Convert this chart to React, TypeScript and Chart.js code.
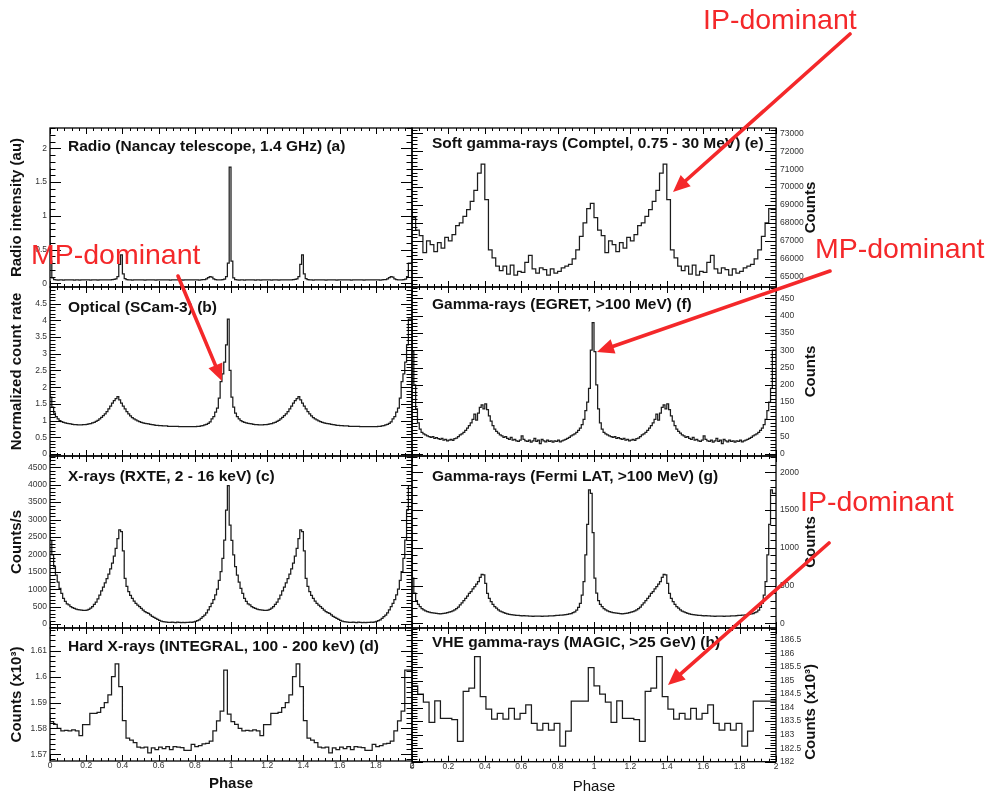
import React, { useEffect, useRef } from "react";
import { Chart, registerables } from "chart.js";

Chart.register(...registerables);

// ---------------- data ----------------
// Every light curve is a single-rotation phase profile; the figure plots two rotations (phase 0..2).
const phaseTicks = [0, 0.2, 0.4, 0.6, 0.8, 1, 1.2, 1.4, 1.6, 1.8, 2];

// (a) Radio, Nancay 1.4 GHz – 100 bins per rotation (au)
const radioProfile = [
  1.72, 0.33, 0.08, 0.055, 0.05, 0.048, 0.052, 0.05, 0.047, 0.05,
  0.051, 0.049, 0.05, 0.052, 0.048, 0.05, 0.05, 0.047, 0.051, 0.05,
  0.049, 0.05, 0.052, 0.048, 0.05, 0.05, 0.051, 0.047, 0.05, 0.05,
  0.052, 0.049, 0.05, 0.05, 0.052, 0.055, 0.058, 0.065, 0.1, 0.28,
  0.42, 0.14, 0.07, 0.055, 0.05, 0.05, 0.048, 0.051, 0.05, 0.049,
  0.05, 0.05, 0.052, 0.048, 0.05, 0.051, 0.049, 0.05, 0.05, 0.048,
  0.05, 0.052, 0.05, 0.049, 0.05, 0.05, 0.051, 0.048, 0.05, 0.05,
  0.049, 0.052, 0.05, 0.05, 0.048, 0.05, 0.051, 0.05, 0.049, 0.05,
  0.05, 0.052, 0.05, 0.048, 0.05, 0.053, 0.056, 0.065, 0.085, 0.1,
  0.09, 0.065, 0.055, 0.05, 0.05, 0.051, 0.055, 0.06, 0.1, 0.3,
];
const radioTicks = [0, 0.5, 1, 1.5, 2];

// (b) Optical, SCam-3 – normalized count rate, 100 bins
const opticalProfile = [
  2.5, 1.7, 1.4, 1.22, 1.12, 1.05, 1.0, 0.97, 0.95, 0.93,
  0.92, 0.91, 0.9, 0.89, 0.88, 0.88, 0.87, 0.87, 0.87, 0.88,
  0.88, 0.89, 0.9, 0.91, 0.93, 0.95, 0.98, 1.01, 1.05, 1.1,
  1.15, 1.2, 1.27, 1.35, 1.43, 1.52, 1.6, 1.66, 1.72, 1.62,
  1.52, 1.43, 1.35, 1.27, 1.2, 1.14, 1.09, 1.05, 1.02, 0.99,
  0.97, 0.95, 0.93, 0.92, 0.91, 0.9, 0.89, 0.88, 0.87, 0.86,
  0.86, 0.85, 0.85, 0.84, 0.84, 0.84, 0.83, 0.83, 0.83, 0.83,
  0.83, 0.83, 0.82, 0.82, 0.82, 0.82, 0.82, 0.82, 0.82, 0.82,
  0.82, 0.82, 0.83, 0.83, 0.84, 0.85, 0.87, 0.89, 0.92, 0.96,
  1.05, 1.12, 1.25, 1.37, 1.67, 2.17, 2.4, 2.75, 3.27, 4.04,
];
const opticalTicks = [0, 0.5, 1, 1.5, 2, 2.5, 3, 3.5, 4, 4.5];

// (c) X-rays, RXTE 2-16 keV – counts/s, 100 bins
const xrayProfile = [
  2843, 2400, 1982, 1650, 1407, 1200, 1024, 880, 737, 650,
  580, 546, 500, 470, 450, 430, 415, 405, 395, 390,
  392, 400, 420, 455, 500, 560, 630, 720, 830, 950,
  1060, 1180, 1300, 1430, 1580, 1750, 1950, 2170, 2450, 2700,
  2650, 2100, 1310, 1080, 929, 820, 737, 660, 594, 540,
  500, 450, 400, 354, 330, 306, 260, 220, 190, 163,
  130, 105, 85, 70, 62, 55, 50, 45, 52, 48,
  40, 55, 45, 42, 48, 40, 50, 45, 55, 50,
  60, 75, 95, 120, 160, 210, 258, 320, 402, 500,
  593, 700, 833, 1000, 1250, 1503, 1886, 2412, 3274, 3973,
];
const xrayTicks = [0, 500, 1000, 1500, 2000, 2500, 3000, 3500, 4000, 4500];

// (d) Hard X-rays, INTEGRAL 100-200 keV – counts (x10^3), 50 bins
const integralProfile = [
  1.5855, 1.5826, 1.5816, 1.58, 1.579, 1.5792, 1.579, 1.5794, 1.579, 1.5772,
  1.5815, 1.5815, 1.5858, 1.5858, 1.5862, 1.588, 1.59, 1.593, 1.6, 1.6049,
  1.5961, 1.583, 1.5762, 1.5755, 1.5745, 1.5728, 1.5725, 1.5728, 1.5705, 1.5725,
  1.5718, 1.5728, 1.5722, 1.573, 1.5718, 1.573, 1.5728, 1.5726, 1.5715, 1.5715,
  1.5738, 1.573, 1.5733, 1.574, 1.5742, 1.5751, 1.579, 1.5829, 1.5867, 1.6025,
];
const integralTicks = [1.57, 1.58, 1.59, 1.6, 1.61];

// (e) Soft gamma-rays, COMPTEL 0.75-30 MeV – counts, 50 bins
const comptelProfile = [
  69100, 68300, 67600, 67300, 66350, 67000, 66800, 66400, 66900, 66600,
  67200, 67000, 67350, 67850, 68000, 68370, 68740, 69200, 69815, 70780,
  71280, 69300, 66500, 66050, 65600, 65350, 65600, 65150, 65650, 65100,
  65300, 65250, 65800, 66200, 65450, 65200, 65500, 65400, 65100, 65450,
  65200, 65300, 65500, 65600, 65700, 66000, 66500, 67250, 68000, 68800,
];
const comptelTicks = [65000, 66000, 67000, 68000, 69000, 70000, 71000, 72000, 73000];

// (f) Gamma-rays, EGRET >100 MeV – counts, 100 bins
const egretProfile = [
  380, 296, 200, 130, 90, 72, 62, 58, 55, 52,
  50, 48, 50, 45, 47, 44, 42, 45, 40, 42,
  38, 40, 42, 39, 44, 46, 50, 55, 58, 62,
  68, 75, 82, 90, 100, 115, 98, 118, 135, 142,
  130, 145, 128, 110, 95, 82, 72, 65, 60, 55,
  52, 48, 50, 45, 42, 48, 40, 42, 38, 36,
  40, 52, 42, 38, 36, 40, 34, 38, 45, 36,
  40, 30, 42, 38, 35, 40, 36, 38, 34, 38,
  36, 40, 35, 38, 40, 42, 45, 48, 52, 55,
  58, 62, 68, 75, 85, 100, 125, 150, 190, 300,
];
const egretTicks = [0, 50, 100, 150, 200, 250, 300, 350, 400, 450];

// (g) Gamma-rays, Fermi LAT >100 MeV – counts, 100 bins
const fermiProfile = [
  1200, 600, 400, 300, 250, 220, 195, 177, 165, 155,
  148, 142, 138, 135, 132, 130, 126, 130, 133, 135,
  140, 148, 155, 165, 178, 195, 215, 243, 270, 300,
  330, 360, 395, 420, 455, 485, 520, 552, 610, 649,
  640, 530, 397, 330, 287, 250, 220, 200, 177, 160,
  150, 140, 132, 125, 120, 115, 112, 110, 106, 105,
  103, 100, 101, 98, 97, 96, 95, 93, 94, 96,
  95, 94, 92, 94, 95, 96, 97, 98, 100, 102,
  104, 105, 108, 110, 112, 115, 120, 125, 130, 140,
  150, 175, 210, 265, 375, 552, 905, 1311, 1766, 1720,
];
const fermiTicks = [0, 500, 1000, 1500, 2000];

// (h) VHE gamma-rays, MAGIC >25 GeV – counts (x10^3), 32 bins
const magicProfile = [
  185.48, 184.8, 184.5, 184.2, 183.45, 184.25, 183.6, 183.6, 183.55, 182.75,
  184.6, 184.72, 185.88, 184.4, 183.94, 183.57, 183.79, 183.57, 183.97, 183.57,
  183.79, 184.1, 183.42, 183.17, 183.42, 183.17, 183.42, 182.58, 183.13, 184.24,
  184.24, 184.24,
];
const magicTicks = [182, 182.5, 183, 183.5, 184, 184.5, 185, 185.5, 186, 186.5];

// ---------------- layout & style ----------------
const FONT = '"Liberation Sans", Arial, Helvetica, sans-serif';
const LINE = "#1c1c1c";
const RED = "#f4282a";
const PAGE_H = 799;

const COLS = [
  { frameLeft: 50, frameRight: 412, canvasLeft: 0, canvasRight: 416 },
  { frameLeft: 412, frameRight: 776, canvasLeft: 408, canvasRight: 830 },
];

type PanelCfg = {
  key: string;
  col: number;
  top: number;
  bottom: number;
  profile: number[];
  yMin: number;
  yMax: number;
  yTicks: number[];
  yMinor: number;
  title: string;
  titleDy: number;
  yTitle: string;
  yTitleDy?: number;
  bottomRow?: boolean;
  xTitleBold?: boolean;
};

const panels: PanelCfg[] = [
  { key: "a", col: 0, top: 128, bottom: 287, profile: radioProfile, yMin: -0.055, yMax: 2.3, yTicks: radioTicks, yMinor: 0.1,
    title: "Radio (Nancay telescope, 1.4 GHz) (a)", titleDy: 19, yTitle: "Radio intensity (au)" },
  { key: "b", col: 0, top: 287, bottom: 456, profile: opticalProfile, yMin: -0.06, yMax: 5.0, yTicks: opticalTicks, yMinor: 0.1,
    title: "Optical (SCam-3) (b)", titleDy: 21, yTitle: "Normalized count rate" },
  { key: "c", col: 0, top: 456, bottom: 628, profile: xrayProfile, yMin: -115, yMax: 4825, yTicks: xrayTicks, yMinor: 100,
    title: "X-rays (RXTE, 2 - 16 keV) (c)", titleDy: 21, yTitle: "Counts/s" },
  { key: "d", col: 0, top: 628, bottom: 761, profile: integralProfile, yMin: 1.5674, yMax: 1.6188, yTicks: integralTicks, yMinor: 0.002,
    title: "Hard X-rays (INTEGRAL, 100 - 200 keV) (d)", titleDy: 19, yTitle: "Counts (x10³)", bottomRow: true, xTitleBold: true },
  { key: "e", col: 1, top: 128, bottom: 287, profile: comptelProfile, yMin: 64433, yMax: 73294, yTicks: comptelTicks, yMinor: 200,
    title: "Soft gamma-rays (Comptel, 0.75 - 30 MeV) (e)", titleDy: 16, yTitle: "Counts" },
  { key: "f", col: 1, top: 287, bottom: 456, profile: egretProfile, yMin: -6, yMax: 483, yTicks: egretTicks, yMinor: 10,
    title: "Gamma-rays (EGRET, >100 MeV) (f)", titleDy: 18, yTitle: "Counts" },
  { key: "g", col: 1, top: 456, bottom: 628, profile: fermiProfile, yMin: -62, yMax: 2216, yTicks: fermiTicks, yMinor: 100,
    title: "Gamma-rays (Fermi LAT, >100 MeV) (g)", titleDy: 21, yTitle: "Counts" },
  { key: "h", col: 1, top: 628, bottom: 761.7, profile: magicProfile, yMin: 182, yMax: 186.94, yTicks: magicTicks, yMinor: 0.1,
    title: "VHE gamma-rays (MAGIC, >25 GeV) (h)", titleDy: 15, yTitle: "Counts (x10³)", yTitleDy: 17, bottomRow: true, xTitleBold: false },
];

const annotations = [
  { text: "IP-dominant", tx: 703, ty: 29, from: [850, 34], to: [673, 192] },
  { text: "MP-dominant", tx: 815, ty: 258, from: [830, 271], to: [597, 352] },
  { text: "IP-dominant", tx: 800, ty: 511, from: [829, 543], to: [668, 685] },
  { text: "MP-dominant", tx: 31, ty: 264, from: [178, 276], to: [222, 381] },
];

// two rotations of the profile as histogram steps
function histogram(profile: number[]) {
  const n = profile.length;
  const pts: { x: number; y: number }[] = [];
  for (let turn = 0; turn < 2; turn++) {
    for (let i = 0; i < n; i++) pts.push({ x: turn + i / n, y: profile[i] });
  }
  pts.push({ x: 2, y: profile[n - 1] });
  return pts;
}

function fmt(v: number) {
  return String(Number(v.toFixed(6)));
}

function makeFramePlugin(p: PanelCfg) {
  return {
    id: "frame_" + p.key,
    afterDraw(chart: any) {
      const { ctx, chartArea: a } = chart;
      const xs = chart.scales.x;
      const ys = chart.scales.y;
      ctx.save();
      ctx.strokeStyle = "#000";
      ctx.lineWidth = 1;
      ctx.beginPath();
      const loop = (min: number, max: number, step: number, majors: number[], fn: (v: number, major: boolean) => void) => {
        const k0 = Math.ceil(min / step - 1e-9);
        const k1 = Math.floor(max / step + 1e-9);
        for (let k = k0; k <= k1; k++) {
          const v = k * step;
          const major = majors.some((m) => Math.abs(m - v) < step * 1e-3);
          fn(v, major);
        }
      };
      loop(xs.min, xs.max, 0.04, phaseTicks, (v, major) => {
        const px = Math.round(xs.getPixelForValue(v)) + 0.5;
        const len = major ? 6 : 3;
        ctx.moveTo(px, a.bottom);
        ctx.lineTo(px, a.bottom - len);
        ctx.moveTo(px, a.top);
        ctx.lineTo(px, a.top + len);
      });
      loop(ys.min, ys.max, p.yMinor, p.yTicks, (v, major) => {
        const py = Math.round(ys.getPixelForValue(v)) + 0.5;
        const len = major ? 11 : 5.5;
        ctx.moveTo(a.left, py);
        ctx.lineTo(a.left + len, py);
        ctx.moveTo(a.right, py);
        ctx.lineTo(a.right - len, py);
      });
      ctx.stroke();
      ctx.lineWidth = 1.3;
      ctx.strokeRect(a.left, a.top, a.right - a.left, a.bottom - a.top);

      ctx.fillStyle = "#111";
      ctx.font = `bold 15.5px ${FONT}`;
      ctx.textAlign = "left";
      ctx.textBaseline = "middle";
      ctx.fillText(p.title, a.left + (p.col === 0 ? 18 : 20), a.top + p.titleDy);

      if (p.col === 1) {
        ctx.save();
        ctx.translate(a.right + 35, (a.top + a.bottom) / 2 + (p.yTitleDy || 0));
        ctx.rotate(-Math.PI / 2);
        ctx.font = `bold 15px ${FONT}`;
        ctx.textAlign = "center";
        ctx.textBaseline = "middle";
        ctx.fillText(p.yTitle, 0, 0);
        ctx.restore();
      }
      ctx.restore();
    },
  };
}

function Panel({ p }: { p: PanelCfg }) {
  const ref = useRef<HTMLCanvasElement | null>(null);
  const col = COLS[p.col];
  const canvasTop = Math.floor(p.top) - 12;
  const canvasBottom = p.bottomRow ? PAGE_H : Math.ceil(p.bottom) + 12;
  const width = col.canvasRight - col.canvasLeft;
  const height = canvasBottom - canvasTop;

  useEffect(() => {
    const padTop = p.top - canvasTop;
    const xHeight = canvasBottom - p.bottom;
    const isLeft = p.col === 0;
    const yWidth = isLeft ? col.frameLeft - col.canvasLeft : col.canvasRight - col.frameRight;
    const tickFont = { family: FONT, size: 8.5 };

    const chart = new Chart(ref.current as HTMLCanvasElement, {
      type: "line",
      data: {
        datasets: [
          {
            data: histogram(p.profile),
            stepped: "after",
            borderColor: LINE,
            borderWidth: 1.25,
            pointRadius: 0,
            fill: false,
            tension: 0,
          } as any,
        ],
      },
      options: {
        animation: false,
        responsive: false,
        events: [],
        layout: {
          padding: {
            top: padTop,
            bottom: 0,
            left: isLeft ? 0 : col.frameLeft - col.canvasLeft,
            right: isLeft ? col.canvasRight - col.frameRight : 0,
          },
        },
        plugins: { legend: { display: false }, tooltip: { enabled: false }, title: { display: false } },
        scales: {
          x: {
            type: "linear",
            position: "bottom",
            min: 0,
            max: 2,
            grid: { display: false, drawTicks: false },
            border: { display: false },
            afterBuildTicks: (s: any) => {
              s.ticks = phaseTicks.map((v) => ({ value: v }));
            },
            afterFit: (s: any) => {
              s.height = xHeight;
            },
            ticks: {
              display: !!p.bottomRow,
              padding: 0,
              autoSkip: false,
              maxRotation: 0,
              minRotation: 0,
              font: tickFont,
              color: "#333",
              callback: (v: any) => fmt(Number(v)),
            },
            title: p.bottomRow
              ? {
                  display: true,
                  text: "Phase",
                  color: "#111",
                  font: { family: FONT, size: 15, weight: p.xTitleBold ? "bold" : "normal" },
                  padding: { top: 0, bottom: p.xTitleBold ? 6 : 3 },
                }
              : { display: false },
          } as any,
          y: {
            type: "linear",
            position: isLeft ? "left" : "right",
            min: p.yMin,
            max: p.yMax,
            grid: { display: false, drawTicks: false },
            border: { display: false },
            afterBuildTicks: (s: any) => {
              s.ticks = p.yTicks.map((v) => ({ value: v }));
            },
            afterFit: (s: any) => {
              s.width = yWidth;
            },
            ticks: {
              padding: isLeft ? 3 : 4,
              autoSkip: false,
              font: tickFont,
              color: "#333",
              callback: (v: any) => fmt(Number(v)),
            },
            title: isLeft
              ? {
                  display: true,
                  text: p.yTitle,
                  color: "#111",
                  font: { family: FONT, size: 15, weight: "bold" },
                  padding: { top: 8, bottom: 0 },
                }
              : { display: false },
          } as any,
        },
      },
      plugins: [makeFramePlugin(p)],
    } as any);
    return () => chart.destroy();
  }, []);

  return (
    <canvas
      ref={ref}
      width={width}
      height={height}
      style={{ position: "absolute", left: col.canvasLeft, top: canvasTop, width, height }}
    />
  );
}

function Arrow({ from, to }: { from: number[]; to: number[] }) {
  const dx = to[0] - from[0];
  const dy = to[1] - from[1];
  const len = Math.hypot(dx, dy);
  const ux = dx / len;
  const uy = dy / len;
  const head = 17;
  const hw = 7.5;
  const bx = to[0] - ux * head;
  const by = to[1] - uy * head;
  const nx = -uy;
  const ny = ux;
  const pts = `${to[0]},${to[1]} ${bx + nx * hw},${by + ny * hw} ${bx - nx * hw},${by - ny * hw}`;
  return (
    <g>
      <line x1={from[0]} y1={from[1]} x2={bx + ux * 2} y2={by + uy * 2} stroke={RED} strokeWidth={3.6} strokeLinecap="round" />
      <polygon points={pts} fill={RED} />
    </g>
  );
}

export default function App() {
  return (
    <div
      style={{
        position: "absolute",
        left: 0,
        top: 0,
        width: 992,
        height: PAGE_H,
        background: "#fff",
        overflow: "hidden",
      }}
    >
      {panels.map((p) => (
        <Panel key={p.key} p={p} />
      ))}
      <svg
        width={992}
        height={PAGE_H}
        style={{ position: "absolute", left: 0, top: 0, pointerEvents: "none" }}
      >
        {annotations.map((a, i) => (
          <g key={i}>
            <Arrow from={a.from} to={a.to} />
            <text x={a.tx} y={a.ty} fill={RED} fontFamily={FONT} fontSize={28.5}>
              {a.text}
            </text>
          </g>
        ))}
      </svg>
    </div>
  );
}
